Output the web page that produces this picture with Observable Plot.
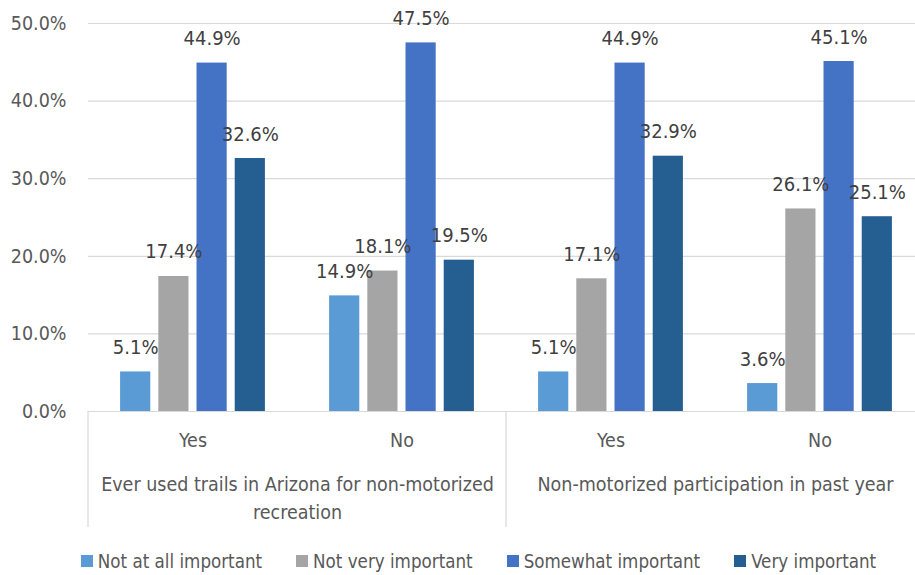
<!DOCTYPE html>
<html>
<head>
<meta charset="utf-8">
<script src="https://cdn.jsdelivr.net/npm/d3@7"></script>
<script src="https://cdn.jsdelivr.net/npm/@observablehq/plot@0.6"></script>
<style>
  html, body { margin: 0; padding: 0; background: #fff; overflow: hidden; width: 915px; height: 575px; position: relative; }
  #chart { width: 915px; height: 545px; overflow: hidden; position: absolute; left: 0; top: 0; }
  #chart svg { max-width: none !important; }
  #legend { position: absolute; left: 0; top: 547px; width: 957px; display: flex; justify-content: center; align-items: center; height: 28px;
    font-family: "Liberation Sans Narrow", "Arial Narrow", "DejaVu Sans Condensed", sans-serif; font-size: 18.6px; color: #595959; }
  .item { display: flex; align-items: center; margin: 0 17px; }
  .sw { width: 12px; height: 12px; margin-right: 5px; }
</style>
</head>
<body>
<div id="chart"></div>
<div id="legend"></div>
<script>
// ---- data ----
const groups = ["Ever used trails in Arizona for non-motorized\nrecreation", "Non-motorized participation in past year"];
const answers = ["Yes", "No"];
const series = ["Not at all important", "Not very important", "Somewhat important", "Very important"];
const colors = ["#5B9BD5", "#A5A5A5", "#4472C4", "#255E91"];
// values per series, columns: [group1 Yes, group1 No, group2 Yes, group2 No]
const notAtAll = [5.1, 14.9, 5.1, 3.6];
const notVery = [17.4, 18.1, 17.1, 26.1];
const somewhat = [44.9, 47.5, 44.9, 45.1];
const very = [32.6, 19.5, 32.9, 25.1];
const yTicks = [0, 10, 20, 30, 40, 50];

const seriesValues = [notAtAll, notVery, somewhat, very];
const keys = [];
groups.forEach((g, gi) => answers.forEach((a, ai) => keys.push({key: gi + "|" + a, group: g, answer: a})));
const rows = [];
seriesValues.forEach((vals, si) => vals.forEach((v, ci) => rows.push({key: keys[ci].key, series: series[si], value: v})));
const groupLabels = groups.map((g, gi) => ({key: gi + "|" + answers[0], label: g}));

const font = '"Liberation Sans Narrow", "Arial Narrow", "DejaVu Sans Condensed", sans-serif';

const plot = Plot.plot({
  width: 925,
  height: 545,
  marginLeft: 88,
  marginRight: 1,
  marginTop: 23,
  marginBottom: 134,
  style: {fontFamily: font, fontSize: "19.5px", color: "#595959", background: "white", overflow: "visible", maxWidth: "none"},
  fx: {domain: keys.map(d => d.key), tickFormat: k => k.split("|")[1], padding: 0, round: false, label: null, axis: "bottom", tickSize: 0, tickPadding: 22},
  x: {domain: series, axis: null, paddingInner: 0.21, paddingOuter: 0.84, round: false},
  y: {domain: [0, 50], ticks: yTicks, tickFormat: d => d.toFixed(1) + "%", label: null, tickSize: 0, tickPadding: 22},
  color: {domain: series, range: colors},
  marks: [
    Plot.ruleY(yTicks, {stroke: "#d9d9d9", strokeWidth: 1.2}),
    Plot.barY(rows, {fx: "key", x: "series", y: "value", fill: "series"}),
    Plot.text(rows, {fx: "key", x: "series", y: "value", text: d => d.value.toFixed(1) + "%", lineAnchor: "bottom", dy: -18, fill: "#404040", fontSize: 20}),
    Plot.text(groupLabels, {fx: "key", text: "label", frameAnchor: "bottom-right", textAnchor: "middle", lineAnchor: "top", dy: 60, lineHeight: 1.42, fill: "#595959", fontSize: 19.5})
  ]
});
document.getElementById("chart").appendChild(plot);

// category dividers below the axis, placed from the fx scale
const fx = plot.scale("fx");
const n = fx.domain.length;
const r0 = fx.range[0], r1 = fx.range[1];
const step = (r1 - r0) / n;
const svg = d3.select(plot);
const edges = [];
fx.domain.forEach((k, i) => { if (k.endsWith("|" + answers[0])) edges.push(r0 + i * step); });
edges.push(r1);
const yb = 545 - 134;
edges.forEach(x => svg.append("line").attr("x1", x).attr("x2", x).attr("y1", yb).attr("y2", yb + 116)
  .attr("stroke", "#d9d9d9").attr("stroke-width", 1.2));

// legend
const leg = document.getElementById("legend");
series.forEach((s, i) => {
  const it = document.createElement("div"); it.className = "item";
  const sw = document.createElement("div"); sw.className = "sw"; sw.style.background = colors[i];
  const tx = document.createElement("span"); tx.textContent = s;
  it.appendChild(sw); it.appendChild(tx); leg.appendChild(it);
});
</script>
</body>
</html>
